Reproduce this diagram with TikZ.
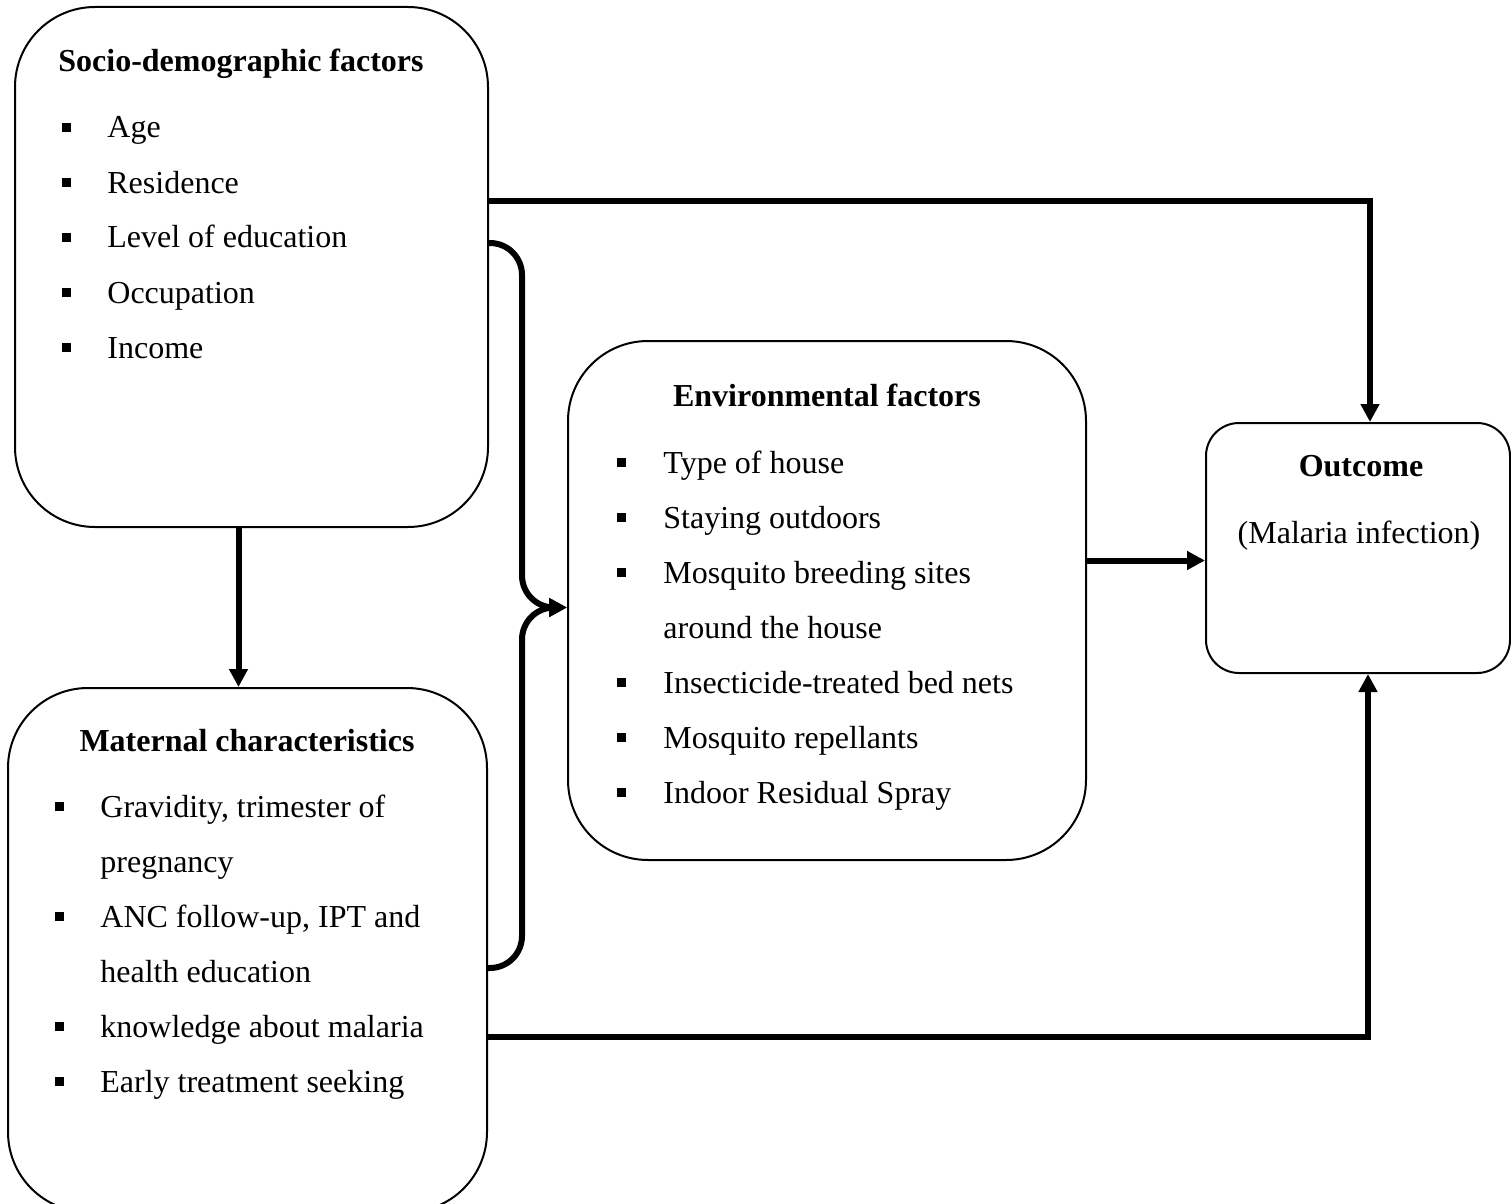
\documentclass[tikz,border=0pt]{standalone}
\usepackage{fontspec}
\setmainfont{Liberation Serif}
\usetikzlibrary{arrows.meta,positioning}
% square bullet followed by a fixed gap
\newcommand{\sqbul}[1]{\makebox[#1][l]{\rule[3pt]{4.5pt}{4.5pt}}}

\begin{document}
\begin{tikzpicture}[x=0.5pt,y=-0.5pt,
   font=\fontsize{16pt}{19pt}\selectfont,
   factorbox/.style={draw,line width=1pt,rounded corners=40pt,inner sep=0pt},
   ttl/.style={anchor=base,font=\fontsize{16pt}{19pt}\selectfont\bfseries,inner sep=0pt},
   itm/.style={anchor=base west,inner sep=0pt},
   arr/.style={-{Triangle[length=9pt,width=9pt]},line width=3pt},
   brc/.style={arr,rounded corners=16pt}]
  \useasboundingbox (0,0) rectangle (1511,1204);

  % boxes
  \node[factorbox,minimum width=236.5pt,minimum height=260pt] (socio) at (251.5,267) {};
  \node[factorbox,minimum width=239.5pt,minimum height=262pt] (maternal) at (247.5,950) {};
  \node[factorbox,minimum width=259pt,minimum height=259.5pt] (env) at (827,600.5) {};
  \node[factorbox,rounded corners=16.5pt,minimum width=152pt,minimum height=125pt] (outcome) at (1358,548) {};

  % socio-demographic factors
  \node[ttl] (sociot) at (241,72) {Socio-demographic factors};
  \foreach \txt [count=\i] in {Age,Residence,Level of education,Occupation,Income}
    \node[itm] (soc\i) at (62,{83+55*\i}) {\sqbul{22.5pt}\txt};

  % maternal characteristics
  \node[ttl] (maternalt) at (247,751) {Maternal characteristics};
  \node[itm] (mat1) at (55,817) {\sqbul{22.5pt}Gravidity, trimester of};
  \node[itm] (mat2) at (100,872) {pregnancy};
  \node[itm] (mat3) at (55,927) {\sqbul{22.5pt}ANC follow-up, IPT and};
  \node[itm] (mat4) at (100,982) {health education};
  \node[itm] (mat5) at (55,1037) {\sqbul{22.5pt}knowledge about malaria};
  \node[itm] (mat6) at (55,1092) {\sqbul{22.5pt}Early treatment seeking};

  % environmental factors
  \node[ttl] (envt) at (827,406) {Environmental factors};
  \node[itm] (env1) at (617,473) {\sqbul{23pt}Type of house};
  \node[itm] (env2) at (617,528) {\sqbul{23pt}Staying outdoors};
  \node[itm] (env3) at (617,583) {\sqbul{23pt}Mosquito breeding sites};
  \node[itm] (env4) at (663,638) {around the house};
  \node[itm] (env5) at (617,693) {\sqbul{23pt}Insecticide-treated bed nets};
  \node[itm] (env6) at (617,748) {\sqbul{23pt}Mosquito repellants};
  \node[itm] (env7) at (617,803) {\sqbul{23pt}Indoor Residual Spray};

  % outcome
  \node[ttl] (outcomet) at (1361,476) {Outcome};
  \node[anchor=base,inner sep=0pt] (outcomes) at (1359,543) {(Malaria infection)};

  % connectors
  \coordinate (bx) at (522,0);
  \coordinate (btip) at ([yshift=-3.5pt]env.west);
  \draw[arr] ([yshift=33pt]socio.east) -| ([xshift=6pt]outcome.north);
  \draw[arr] ([xshift=-6.5pt]socio.south) -- ([xshift=-6.5pt]socio.south |- maternal.north);
  \draw[arr] ([yshift=20pt]env.east) -- ([yshift=20pt]env.east -| outcome.west);
  \draw[arr] ([yshift=-43.5pt]maternal.east) -| ([xshift=5pt]outcome.south);
  \draw[brc] ([yshift=12pt]socio.east) -| (bx |- btip) -- (btip);
  \draw[brc] ([yshift=-9pt]maternal.east) -| (bx |- btip) -- (btip);
\end{tikzpicture}
\end{document}
